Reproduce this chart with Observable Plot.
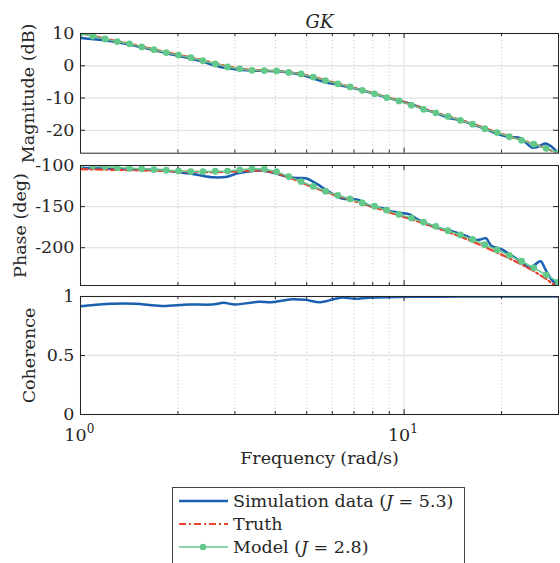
<!DOCTYPE html>
<html>
<head>
<meta charset="utf-8">
<script src="https://cdn.jsdelivr.net/npm/d3@7"></script>
<script src="https://cdn.jsdelivr.net/npm/@observablehq/plot@0.6"></script>
<style>
  html, body { margin: 0; padding: 0; background: #fff; }
  #wrap { position: relative; width: 560px; height: 563px; overflow: hidden; font-family: "DejaVu Serif", serif; color: #262626; }
  .panel { position: absolute; left: 0; }
  .panel svg { overflow: visible; }
  #legend { position: absolute; left: 172px; top: 487px; width: 293px; height: 90px; border: 1px solid #444; background: #fff; box-sizing: border-box; }
  .row { position: absolute; left: 5px; height: 24px; display: flex; align-items: center; font-size: 17.5px; white-space: nowrap; color: #262626; }
  .row svg { margin-right: 4px; }
</style>
</head>
<body>
<div id="wrap"></div>
<script>
// ---------- data ----------
const fModel = [1.000, 1.091, 1.191, 1.299, 1.417, 1.546, 1.687, 1.841, 2.009, 2.192,
  2.391, 2.609, 2.847, 3.106, 3.389, 3.698, 4.035, 4.402, 4.803, 5.241,
  5.718, 6.239, 6.808, 7.428, 8.104, 8.843, 9.648, 10.53, 11.49, 12.53,
  13.67, 14.92, 16.28, 17.76, 19.38, 21.14, 23.07, 25.17, 27.47, 29.97];
const magModel = [10, 9.2, 8.3, 7.5, 6.8, 5.85, 5.0, 4.1, 3.3, 2.5,
  1.55, 0.55, -0.35, -0.95, -1.4, -1.5, -1.6, -2.05, -2.55, -3.5,
  -4.6, -5.6, -6.55, -7.6, -8.7, -9.85, -10.9, -12.2, -13.5, -14.6,
  -15.7, -16.9, -18.1, -19.5, -20.7, -22.0, -23.1, -24.3, -25.6, -27.0];
const phaseModel = [-99, -100.4, -101.2, -102.5, -103.3, -104, -105, -105.8, -106.6, -107.4,
  -107.4, -107, -106.8, -105.3, -104, -104.3, -107.5, -113.5, -119.5, -125.5,
  -131.2, -136.3, -140.7, -145.5, -149.5, -154.3, -159.5, -164, -169, -174,
  -179.3, -184.5, -190, -196.3, -202.8, -209.3, -216.5, -224.5, -233, -242];
const magTruth = [10.1, 9.3, 8.45, 7.6, 6.9, 6.0, 5.1, 4.2, 3.4, 2.6,
  1.7, 0.7, -0.2, -0.85, -1.3, -1.5, -1.6, -1.95, -2.5, -3.4,
  -4.5, -5.5, -6.5, -7.5, -8.6, -9.7, -10.8, -12.0, -13.3, -14.5,
  -15.6, -16.8, -18.0, -19.3, -20.6, -21.9, -23.0, -24.2, -25.6, -27.2];
const phaseTruth = [-104.5, -104.8, -105.1, -105.4, -105.7, -106, -106.3, -106.7, -107.2, -107.7,
  -108, -108.1, -107.8, -107, -106.2, -106.5, -109, -114.5, -120.5, -126.5,
  -132, -137.3, -141.7, -146.5, -151, -155.8, -160.8, -165.5, -170.5, -175.7,
  -181, -186.5, -192.5, -199, -206, -213, -220.5, -228.5, -238, -249];

const fSimMag = [1, 1.1, 1.2, 1.3, 1.42, 1.55, 1.69, 1.84, 2.0, 2.2,
  2.4, 2.6, 2.85, 3.1, 3.4, 3.7, 4.0, 4.4, 4.8, 5.2,
  5.7, 6.2, 6.8, 7.4, 8.1, 8.8, 9.6, 10.5, 11.5, 12.5,
  13.7, 14.9, 16.3, 17.8, 19.4, 21.1, 22.9, 24.0, 24.9, 25.8,
  26.6, 27.4, 28.4, 30];
const magSim = [8.6, 8.2, 7.8, 7.3, 6.6, 5.7, 4.8, 3.9, 3.1, 2.2,
  1.2, 0.1, -0.8, -1.2, -1.5, -1.6, -1.7, -2.1, -2.8, -3.8,
  -5.1, -5.8, -6.7, -7.6, -8.7, -9.8, -10.8, -11.8, -13.4, -14.6,
  -16.1, -16.9, -18.2, -19.5, -21.1, -22.1, -22.4, -24.2, -25.4, -25.2,
  -24.5, -24.1, -24.9, -27.2];
const fSimPhase = [1.0, 1.15, 1.43, 1.77, 1.99, 2.27, 2.58, 2.84, 3.06, 3.35,
  3.64, 4.0, 4.35, 4.62, 4.96, 5.39, 5.92, 6.44, 6.83, 7.2,
  7.86, 8.6, 9.06, 9.74, 10.4, 11.0, 12.1, 13.2, 14.2, 15.7,
  16.5, 17.2, 17.9, 18.6, 19.9, 21.0, 21.8, 23.0, 24.3, 25.3,
  26.4, 27.3, 28.3, 30];
const phaseSim = [-102.8, -103.5, -104.5, -105.5, -108, -111, -114.4, -113.6, -109.5, -107,
  -106, -109.5, -113.6, -115.2, -115.6, -122.6, -133, -140.3, -141, -141.5,
  -149.4, -152, -155.5, -157.6, -159.5, -165.6, -173, -177.5, -180.5, -186.4,
  -190.5, -190, -188.5, -197.5, -201.5, -207, -211, -217, -224.3, -221,
  -216.6, -226, -236.5, -248];
const fCoh = [1.0, 1.25, 1.48, 1.78, 2.16, 2.55, 2.77, 3.0, 3.55, 3.9,
  4.5, 4.94, 5.5, 5.98, 6.42, 7.06, 7.75, 9.39, 11.9, 15, 20, 30];
const cohSim = [0.917, 0.938, 0.938, 0.92, 0.932, 0.932, 0.946, 0.932, 0.955, 0.952,
  0.977, 0.972, 0.952, 0.972, 0.992, 0.98, 0.99, 0.995, 0.998, 0.999, 1.0, 1.0];

const magTicks = [-20, -10, 0, 10];
const phaseTicks = [-200, -150, -100];
const cohTicks = [0, 0.5, 1];
const majorX = [1, 10];
const minorX = [2, 3, 4, 5, 6, 7, 8, 9, 20];
const xDomain = [1, 30];

const BLUE = "#1a5fb0", RED = "#e8412e", GREEN = "#62c98a", AX = "#262626";
const RED_DASH = "7,3,2,3";

const legendItems = [
  {label: 'Simulation data (<i>J</i> = 5.3)', color: BLUE, dash: null, width: 2.5, marker: false},
  {label: 'Truth', color: RED, dash: RED_DASH, width: 2.2, marker: false},
  {label: 'Model (<i>J</i> = 2.8)', color: GREEN, dash: null, width: 1.5, marker: true}
];

// ---------- helpers ----------
const zip = (xs, ys) => xs.map((x, i) => ({x, y: ys[i]}));
const wrap = document.getElementById("wrap");
const W = 560, ML = 80, MR = 2;
const IW = W - ML - MR;

function panel({top, height, mt, mb, yDomain, yTicks, yLabel, labelDx, series, extra = []}) {
  const H = height - mt - mb;
  const marks = [
    Plot.ruleX(minorX, {x: d => d, stroke: "#b5b5b5", strokeWidth: 0.8, strokeDasharray: "1,2.5"}),
    Plot.ruleX(majorX, {x: d => d, stroke: "#e3e3e3", strokeWidth: 1.3}),
    Plot.ruleY(yTicks, {y: d => d, stroke: "#e3e3e3", strokeWidth: 1.3}),
    ...series,
    Plot.frame({stroke: AX, strokeWidth: 1}),
    // inward ticks
    Plot.ruleX(majorX, {x: d => d, insetTop: H - 5, stroke: AX}),
    Plot.ruleX(majorX, {x: d => d, insetBottom: H - 5, stroke: AX}),
    Plot.ruleX(minorX, {x: d => d, insetTop: H - 3, stroke: AX}),
    Plot.ruleX(minorX, {x: d => d, insetBottom: H - 3, stroke: AX}),
    Plot.ruleY(yTicks, {y: d => d, insetRight: IW - 5, stroke: AX}),
    Plot.ruleY(yTicks, {y: d => d, insetLeft: IW - 5, stroke: AX}),
    Plot.text(yTicks, {y: d => d, text: d => String(d), frameAnchor: "left", dx: -6, textAnchor: "end", fontSize: 17.5, fill: AX}),
    Plot.text([yLabel], {text: d => d, frameAnchor: "left", textAnchor: "middle", rotate: -90, dx: labelDx, fontSize: 17.5, fill: AX}),
    ...extra
  ];
  const svg = Plot.plot({
    width: W, height,
    marginTop: mt, marginBottom: mb, marginLeft: ML, marginRight: MR,
    x: {type: "log", domain: xDomain, axis: null},
    y: {domain: yDomain, axis: null},
    style: {background: "transparent", overflow: "visible", fontFamily: "DejaVu Serif, serif", fontSize: "17px", color: AX},
    marks
  });
  const div = document.createElement("div");
  div.className = "panel";
  div.style.top = top + "px";
  div.appendChild(svg);
  wrap.appendChild(div);
}

function bodeSeries(sim, truth, model) {
  return [
    Plot.line(sim, {x: "x", y: "y", stroke: BLUE, strokeWidth: 2.5, curve: "catmull-rom", clip: true}),
    Plot.line(truth, {x: "x", y: "y", stroke: RED, strokeWidth: 2.2, strokeDasharray: RED_DASH, clip: true}),
    Plot.line(model, {x: "x", y: "y", stroke: GREEN, strokeWidth: 1.5, clip: true}),
    Plot.dot(model, {x: "x", y: "y", fill: GREEN, r: 3.4, clip: true})
  ];
}

// ---------- magnitude ----------
panel({
  top: 0, height: 170, mt: 33, mb: 17.3,
  yDomain: [-27.1, 10], yTicks: magTicks, yLabel: "Magnitude (dB)", labelDx: -52,
  series: bodeSeries(zip(fSimMag, magSim), zip(fModel, magTruth), zip(fModel, magModel)),
  extra: [Plot.text(["GK"], {text: d => d, frameAnchor: "top", dy: -18, fontStyle: "italic", fontSize: 18, fill: AX})]
});

// ---------- phase ----------
panel({
  top: 150, height: 150, mt: 15, mb: 15,
  yDomain: [-246, -100], yTicks: phaseTicks, yLabel: "Phase (deg)", labelDx: -60,
  series: bodeSeries(zip(fSimPhase, phaseSim), zip(fModel, phaseTruth), zip(fModel, phaseModel))
});

// ---------- coherence ----------
panel({
  top: 280, height: 283, mt: 16, mb: 149,
  yDomain: [0, 1], yTicks: cohTicks, yLabel: "Coherence", labelDx: -51,
  series: [Plot.line(zip(fCoh, cohSim), {x: "x", y: "y", stroke: BLUE, strokeWidth: 2.5, curve: "catmull-rom", clip: true})],
  extra: [
    Plot.text(majorX, {x: d => d, text: () => "10", frameAnchor: "bottom", dy: 26, dx: -5, fontSize: 17.5, fill: AX}),
    Plot.text(majorX, {x: d => d, text: d => String(Math.round(Math.log10(d))), frameAnchor: "bottom", dy: 18, dx: 10, fontSize: 12, fill: AX}),
    Plot.text(["Frequency (rad/s)"], {text: d => d, frameAnchor: "bottom", dy: 49, fontSize: 17.5, fill: AX})
  ]
});

// ---------- legend ----------
const legend = document.createElement("div");
legend.id = "legend";
legendItems.forEach((it, i) => {
  const row = document.createElement("div");
  row.className = "row";
  row.style.top = (1 + i * 23.2) + "px";
  const dash = it.dash ? `stroke-dasharray="${it.dash}"` : "";
  const marker = it.marker ? `<circle cx="25" cy="12" r="3.2" fill="${it.color}"/>` : "";
  row.innerHTML = `<svg width="51" height="24"><line x1="1" x2="50" y1="12" y2="12" stroke="${it.color}" stroke-width="${it.width}" ${dash}/>${marker}</svg><span>${it.label}</span>`;
  legend.appendChild(row);
});
wrap.appendChild(legend);
</script>
</body>
</html>
